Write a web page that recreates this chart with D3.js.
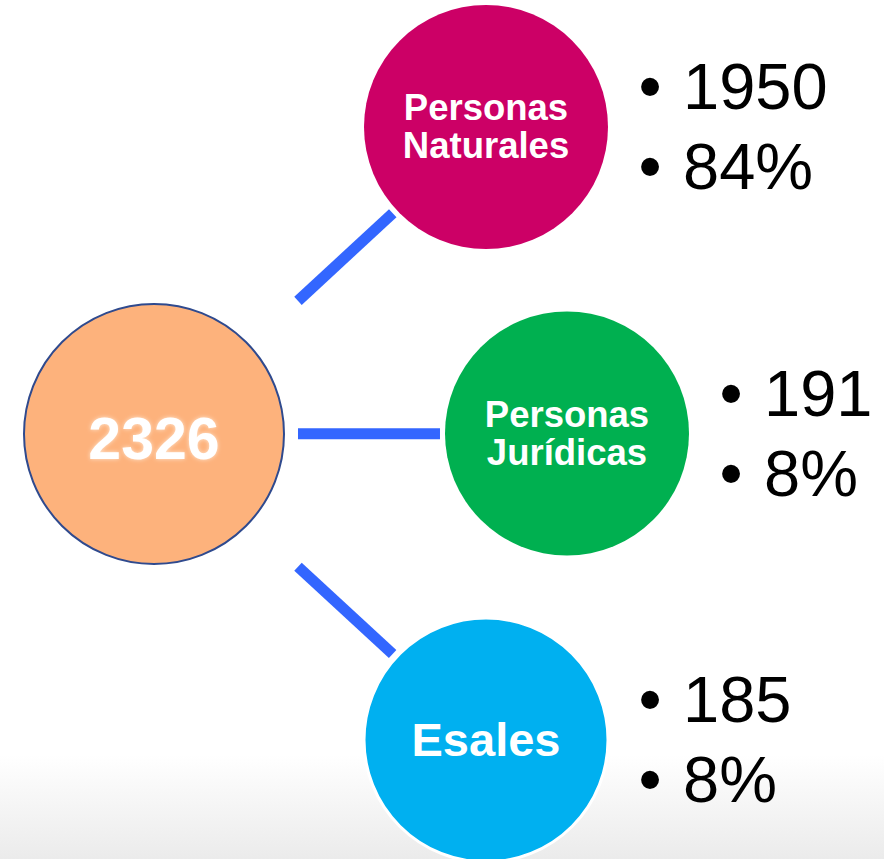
<!DOCTYPE html>
<meta charset="utf-8">
<script src="https://d3js.org/d3.v7.min.js"></script>
<style>
  body { margin: 0; background: #fff; }
  text { font-family: "Liberation Sans", Arial, sans-serif; }
</style>
<body>
<div id="chart"></div>
<script>
// data
var total = 2326;
var categories = ["Personas Naturales", "Personas Jurídicas", "Esales"];
var labelLines = [["Personas", "Naturales"], ["Personas", "Jurídicas"], ["Esales"]];
var counts = [1950, 191, 185];
var shares = ["84%", "8%", "8%"];
var colors = ["#cc0066", "#00b050", "#00b0f0"];

var width = 884, height = 859;

var svg = d3.select("#chart")
  .append("svg")
    .attr("width", width)
    .attr("height", height);

var defs = svg.append("defs");
var grad = defs.append("linearGradient")
    .attr("id", "bg")
    .attr("x1", 0).attr("y1", 0).attr("x2", 0).attr("y2", 1);
grad.append("stop").attr("offset", "0%").attr("stop-color", "#ffffff");
grad.append("stop").attr("offset", "100%").attr("stop-color", "#ebebeb");

var glow = defs.append("filter").attr("id", "glow")
    .attr("x", "-20%").attr("y", "-30%").attr("width", "140%").attr("height", "160%");
glow.append("feGaussianBlur").attr("in", "SourceAlpha").attr("stdDeviation", 2).attr("result", "b");
glow.append("feFlood").attr("flood-color", "#fff3e6").attr("flood-opacity", 0.8);
glow.append("feComposite").attr("in2", "b").attr("operator", "in").attr("result", "g");
var merge = glow.append("feMerge");
merge.append("feMergeNode").attr("in", "g");
merge.append("feMergeNode").attr("in", "SourceGraphic");

// background with light grey fade at the bottom
svg.append("rect").attr("width", width).attr("height", height).attr("fill", "#fff");
svg.append("rect")
  .attr("y", 755).attr("width", width).attr("height", height - 755)
  .attr("fill", "url(#bg)");

// layout scales
var y = d3.scalePoint().domain(categories).range([127, 740]);
var x = d3.scaleOrdinal().domain(categories).range([486, 567, 486]);
var r = 122;
var hub = {x: 154, y: 434, r: 130};

var data = categories.map(function(c, i) {
  return {name: c, lines: labelLines[i], count: counts[i], share: shares[i], color: colors[i]};
});

// connectors
var lineStartX = 298;
svg.selectAll(".link")
  .data(data)
  .enter().append("line")
    .attr("class", "link")
    .each(function(d) {
      var dx = x(d.name) - hub.x, dy = y(d.name) - hub.y;
      var len = Math.sqrt(dx * dx + dy * dy);
      var t0 = (lineStartX - hub.x) / dx;
      var t1 = (len - r - 5) / len;
      d3.select(this)
        .attr("x1", hub.x + dx * t0).attr("y1", hub.y + dy * t0)
        .attr("x2", hub.x + dx * t1).attr("y2", hub.y + dy * t1);
    })
    .attr("stroke", "#3366ff")
    .attr("stroke-width", 11);

// hub
svg.append("circle")
  .attr("cx", hub.x).attr("cy", hub.y).attr("r", hub.r)
  .attr("fill", "#fdb27c")
  .attr("stroke", "#2f4a8e")
  .attr("stroke-width", 2);

svg.append("text")
  .attr("x", hub.x).attr("y", hub.y + 25)
  .attr("text-anchor", "middle")
  .attr("fill", "#fff")
  .attr("filter", "url(#glow)")
  .style("font-size", "59px")
  .style("font-weight", "bold")
  .text(total);

// branch nodes
var node = svg.selectAll(".node")
  .data(data)
  .enter().append("g")
    .attr("class", "node")
    .attr("transform", function(d) { return "translate(" + x(d.name) + "," + y(d.name) + ")"; });

node.append("circle")
  .attr("r", r)
  .attr("fill", function(d) { return d.color; })
  .attr("stroke", function(d, i) { return i === 2 ? "#fff" : "none"; })
  .attr("stroke-width", 3);

node.append("text")
  .attr("text-anchor", "middle")
  .attr("fill", "#fff")
  .style("font-weight", "bold")
  .style("font-size", function(d) { return d.lines.length > 1 ? "36.5px" : "47px"; })
  .each(function(d) {
    var t = d3.select(this);
    var lh = 38;
    var y0 = d.lines.length > 1 ? -7 : 16;
    d.lines.forEach(function(l, i) {
      t.append("tspan").attr("x", 0).attr("y", y0 + i * lh).text(l);
    });
  });

// bullet values to the right
var bullets = node.append("g")
  .attr("transform", function(d) { return "translate(" + (r + 40) + ",0)"; })
  .style("font-size", "65px")
  .attr("fill", "#000");

bullets.each(function(d) {
  var g = d3.select(this);
  [String(d.count), d.share].forEach(function(v, i) {
    var by = -18 + i * 80;
    g.append("text").attr("x", 2).attr("y", by).attr("text-anchor", "middle")
      .style("font-size", "66px").text("•");
    g.append("text").attr("x", 35).attr("y", by).text(v);
  });
});
</script>
</body>
</html>
